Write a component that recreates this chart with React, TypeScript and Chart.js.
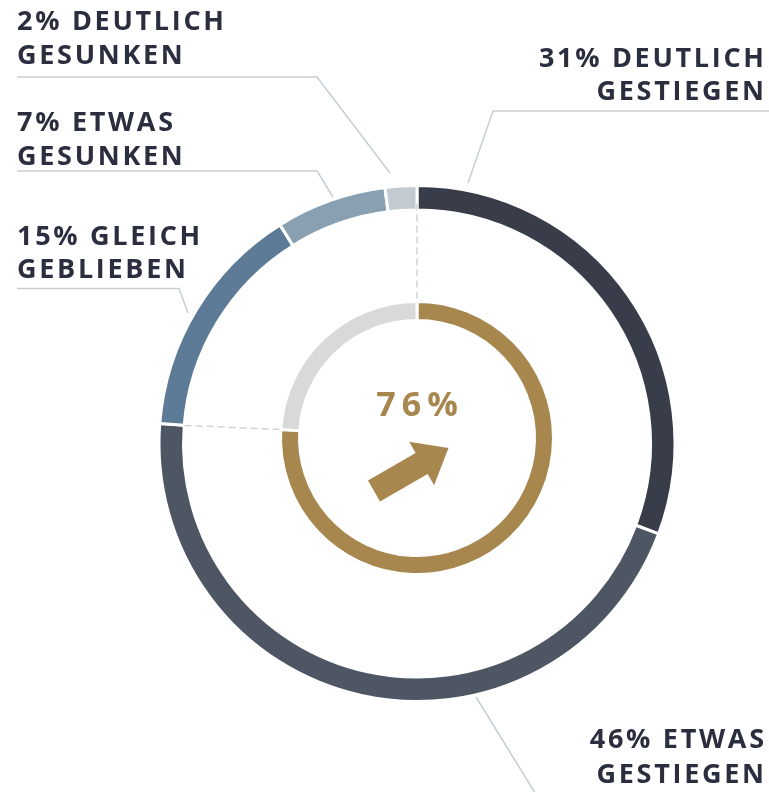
import React, { useEffect, useRef } from 'react';
import { Chart, registerables } from 'chart.js';

Chart.register(...registerables);

// ---- data ----
const outerCategories = ['Deutlich gestiegen', 'Etwas gestiegen', 'Gleich geblieben', 'Etwas gesunken', 'Deutlich gesunken'];
const outerValues = [31, 46, 15, 7, 2];
const outerColors = ['#393d4a', '#4e5663', '#5d7a96', '#88a0b2', '#c3cbd2'];
const labelFirstWord = ['DEUTLICH', 'ETWAS', 'GLEICH', 'ETWAS', 'DEUTLICH'];
const labelSecondWord = ['GESTIEGEN', 'GESTIEGEN', 'GEBLIEBEN', 'GESUNKEN', 'GESUNKEN'];

const innerCategories = ['Gestiegen', 'Nicht gestiegen'];
const innerValues = [76, 24];
const innerColors = ['#a8874f', '#d9d9d9'];
const centerValue = 76;

// ---- layout ----
const W = 769;
const H = 792;
const TEXT_COLOR = '#2b2e3e';
const GOLD = '#a8874f';
const LEADER = '#c6ced4';
const DASH = '#cdd5dc';

const labelLayout = [
  { align: 'right', x: 764, y1: 67, y2: 100, line: [[769, 111], [493, 111], [468, 183]] },
  { align: 'right', x: 764, y1: 747.5, y2: 783, line: [[476, 697], [537, 796]] },
  { align: 'left', x: 17, y1: 245, y2: 277.5, line: [[17, 288.5], [179, 288.5], [188, 313]] },
  { align: 'left', x: 17, y1: 131, y2: 164.5, line: [[17, 171], [317, 171], [333, 197]] },
  { align: 'left', x: 17, y1: 29.5, y2: 63.5, line: [[17, 77], [317, 77], [390, 173]] },
];

function drawSpaced(ctx: CanvasRenderingContext2D, text: string, x: number, y: number, align: string, spacing: number) {
  (ctx as any).letterSpacing = spacing + 'px';
  ctx.textAlign = 'left';
  const w = ctx.measureText(text).width - spacing;
  let sx = x;
  if (align === 'right') sx = x - w;
  else if (align === 'center') sx = x - w / 2;
  ctx.fillText(text, sx, y);
}

export default function App() {
  const outerRef = useRef<HTMLCanvasElement | null>(null);
  const innerRef = useRef<HTMLCanvasElement | null>(null);

  useEffect(() => {
    if (!outerRef.current || !innerRef.current) return;

    const outerChart = new Chart(outerRef.current, {
      type: 'doughnut',
      data: {
        labels: outerCategories,
        datasets: [
          {
            data: outerValues,
            backgroundColor: outerColors,
            borderColor: '#ffffff',
            borderWidth: 3,
          },
        ],
      },
      options: {
        responsive: false,
        animation: false,
        events: [],
        radius: 258,
        cutout: (233.5 / 258) * 100 + '%',
        layout: { padding: { left: 65, right: 0, top: 95, bottom: 0 } },
        plugins: { legend: { display: false }, tooltip: { enabled: false } },
      } as any,
    });

    const overlay = {
      id: 'overlay',
      afterDraw(chart: any) {
        const ctx: CanvasRenderingContext2D = chart.ctx;
        const oArcs = outerChart.getDatasetMeta(0).data as any[];
        const iArcs = chart.getDatasetMeta(0).data as any[];
        ctx.save();

        // dashed connector lines
        ctx.strokeStyle = DASH;
        ctx.lineWidth = 1.5;
        ctx.setLineDash([7, 4]);
        const pairs = [
          [oArcs[0].startAngle, iArcs[0].startAngle, 240],
          [oArcs[1].endAngle, iArcs[0].endAngle, 233],
        ];
        pairs.forEach(([ao, ai, ro]) => {
          const ox = oArcs[0].x + Math.cos(ao) * ro;
          const oy = oArcs[0].y + Math.sin(ao) * ro;
          const ix = iArcs[0].x + Math.cos(ai) * 135;
          const iy = iArcs[0].y + Math.sin(ai) * 135;
          ctx.beginPath();
          ctx.moveTo(ox, oy);
          ctx.lineTo(ix, iy);
          ctx.stroke();
        });
        ctx.setLineDash([]);

        // leader lines
        ctx.strokeStyle = LEADER;
        ctx.lineWidth = 1.5;
        labelLayout.forEach((l) => {
          ctx.beginPath();
          l.line.forEach((p, k) => (k === 0 ? ctx.moveTo(p[0], p[1]) : ctx.lineTo(p[0], p[1])));
          ctx.stroke();
        });

        // labels
        ctx.fillStyle = TEXT_COLOR;
        ctx.font = 'bold 27px "Open Sans"';
        ctx.textBaseline = 'alphabetic';
        labelLayout.forEach((l, i) => {
          drawSpaced(ctx, `${outerValues[i]}% ${labelFirstWord[i]}`, l.x, l.y1, l.align, 2.7);
          drawSpaced(ctx, labelSecondWord[i], l.x, l.y2, l.align, 2.7);
        });

        // center value
        ctx.fillStyle = GOLD;
        ctx.font = 'bold 34px "Open Sans"';
        drawSpaced(ctx, `${centerValue}%`, iArcs[0].x, 416, 'center', 6);

        // arrow
        ctx.translate(374, 491);
        ctx.rotate(-Math.PI / 6);
        ctx.beginPath();
        ctx.moveTo(0, -12);
        ctx.lineTo(55, -12);
        ctx.lineTo(55, -25);
        ctx.lineTo(86, 0);
        ctx.lineTo(55, 25);
        ctx.lineTo(55, 12);
        ctx.lineTo(0, 12);
        ctx.closePath();
        ctx.fill();

        (ctx as any).letterSpacing = '0px';
        ctx.restore();
      },
    };

    const innerChart = new Chart(innerRef.current, {
      type: 'doughnut',
      data: {
        labels: innerCategories,
        datasets: [
          {
            data: innerValues,
            backgroundColor: innerColors,
            borderColor: '#ffffff',
            borderWidth: 3,
          },
        ],
      },
      options: {
        responsive: false,
        animation: false,
        events: [],
        radius: 136.5,
        cutout: (117.5 / 136.5) * 100 + '%',
        layout: { padding: { left: 65, right: 0, top: 84, bottom: 0 } },
        plugins: { legend: { display: false }, tooltip: { enabled: false } },
      } as any,
      plugins: [overlay],
    });

    return () => {
      innerChart.destroy();
      outerChart.destroy();
    };
  }, []);

  return (
    <div style={{ position: 'absolute', left: 0, top: 0, width: W, height: H, background: '#ffffff', overflow: 'hidden' }}>
      <canvas ref={outerRef} width={W} height={H} style={{ position: 'absolute', left: 0, top: 0, width: W, height: H }} />
      <canvas ref={innerRef} width={W} height={H} style={{ position: 'absolute', left: 0, top: 0, width: W, height: H }} />
    </div>
  );
}
